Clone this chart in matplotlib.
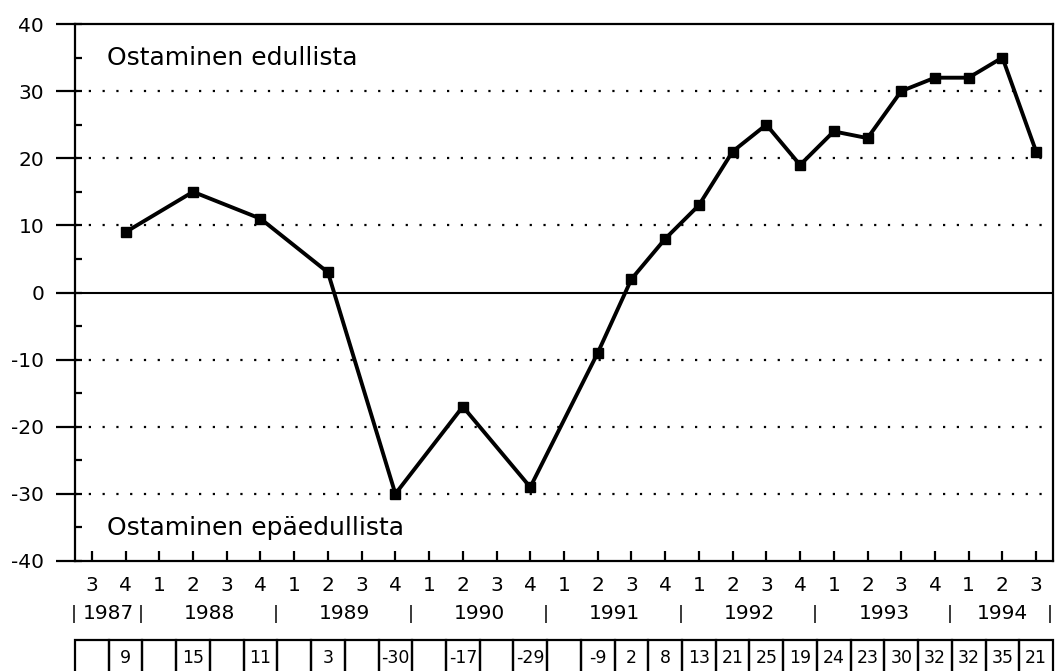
#!/usr/bin/env python3
"""Ostaminen edullista / epäedullista -- saldoluku neljännesvuosittain 1987-1994."""

import matplotlib
matplotlib.use("Agg")
import matplotlib.pyplot as plt
from matplotlib.ticker import MultipleLocator
from matplotlib.patches import Rectangle

# quarter labels 1987Q3 .. 1994Q3
QUARTERS = ["3", "4",
            "1", "2", "3", "4",
            "1", "2", "3", "4",
            "1", "2", "3", "4",
            "1", "2", "3", "4",
            "1", "2", "3", "4",
            "1", "2", "3", "4",
            "1", "2", "3"]
YEARS = ["1987", "1988", "1989", "1990", "1991", "1992", "1993", "1994"]

# balance figure per quarter (None = no survey)
VALUES = [None, 9, None, 15, None, 11, None, 3, None, -30, None, -17, None, -29,
          None, -9, 2, 8, 13, 21, 25, 19, 24, 23, 30, 32, 32, 35, 21]

TXT_TOP = "Ostaminen edullista"
TXT_BOT = "Ostaminen epäedullista"

plt.rcParams["font.family"] = ["DejaVu Sans"]
plt.rcParams["axes.unicode_minus"] = False

W, H = 1055, 671
fig = plt.figure(figsize=(W / 100, H / 100), dpi=100)

AX_L, AX_R, AX_T, AX_B = 75, 1053, 24, 561
ax = fig.add_axes([AX_L / W, 1 - AX_B / H, (AX_R - AX_L) / W, (AX_B - AX_T) / H])

n = len(QUARTERS)
xs = [i for i, v in enumerate(VALUES) if v is not None]
ys = [v for v in VALUES if v is not None]

# gridlines
for g in (-30, -20, -10, 10, 20, 30):
    ax.axhline(g, color="black", lw=1.6, ls=(0, (1, 5.2)), zorder=1)
ax.axhline(0, color="black", lw=1.5, zorder=2)

ax.plot(xs, ys, color="black", lw=2.8, marker="s", ms=6.5, zorder=3, clip_on=False)

ax.set_xlim(-0.5, n - 0.5)
ax.set_ylim(-40, 40)

for s in ax.spines.values():
    s.set_linewidth(1.6)

ax.yaxis.set_major_locator(MultipleLocator(10))
ax.yaxis.set_minor_locator(MultipleLocator(5))
ax.yaxis.remove_overlapping_locs = False
ax.tick_params(axis="y", which="major", direction="out", length=13.7, width=1.6,
               labelsize=14.5, pad=8.5)
ax.tick_params(axis="y", which="minor", direction="in", length=5, width=1.6)

ax.set_xticks(range(n))
ax.set_xticklabels(QUARTERS)
ax.tick_params(axis="x", which="major", direction="in", length=7, width=1.6,
               labelsize=14.5, pad=10.5)

ax.text(0.033, 0.937, TXT_TOP, transform=ax.transAxes, fontsize=18,
        ha="left", va="center")
ax.text(0.033, 0.0615, TXT_BOT, transform=ax.transAxes, fontsize=18,
        ha="left", va="center")

# year row under the quarter labels
year_idx = []
yr = -1
for i, q in enumerate(QUARTERS):
    if i == 0 or q == "1":
        yr += 1
        year_idx.append([])
    year_idx[yr].append(i)

tr = ax.get_xaxis_transform()
Y_ROW = -0.098
for name, idx in zip(YEARS, year_idx):
    ax.text(sum(idx) / len(idx), Y_ROW, name, transform=tr, fontsize=14.5,
            ha="center", va="center", clip_on=False)
    ax.text(idx[0] - 0.55, Y_ROW, "|", transform=tr, fontsize=13,
            ha="center", va="center", clip_on=False)
ax.text(n - 0.5 - 0.1, Y_ROW, "|", transform=tr, fontsize=13,
        ha="center", va="center", clip_on=False)

# data table at the bottom
T_TOP, T_BOT = 640, 676
tax = fig.add_axes([AX_L / W, 1 - T_BOT / H, (AX_R - AX_L) / W, (T_BOT - T_TOP) / H])
tax.set_xlim(-0.5, n - 0.5)
tax.set_ylim(0, 1)
tax.axis("off")
for i, v in enumerate(VALUES):
    tax.add_patch(Rectangle((i - 0.5, 0), 1, 1, fill=False, ec="black", lw=1.6,
                            clip_on=False))
    if v is not None:
        tax.text(i, 0.5, str(v), fontsize=12.5, ha="center", va="center")

fig.savefig("out.png", dpi=100)
plt.close(fig)
